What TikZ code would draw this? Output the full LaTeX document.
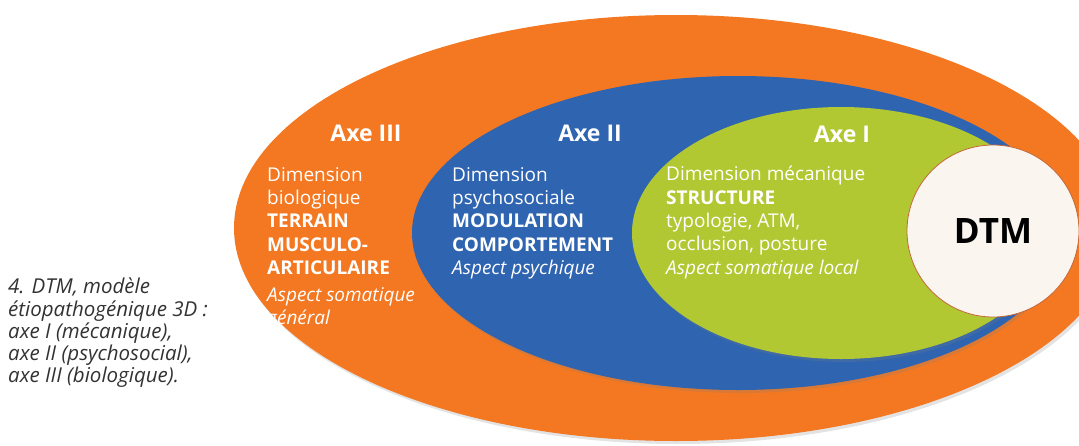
\documentclass[tikz,border=0pt]{standalone}
\usepackage{fontspec}
\setmainfont{Open Sans}
\usetikzlibrary{positioning,shadows}
\definecolor{orangeIII}{RGB}{243,120,33}
\definecolor{bleuII}{RGB}{46,100,176}
\definecolor{vertI}{RGB}{178,200,50}
\definecolor{creme}{RGB}{251,245,239}
\definecolor{bordDTM}{RGB}{196,104,58}
\definecolor{legende}{RGB}{50,50,50}

\begin{document}
\begin{tikzpicture}[x=1pt,y=-1pt,
    zone/.style={drop shadow={opacity=0.22,shadow xshift=2pt,shadow yshift=-3pt}},
    axe/.style={text=white,font=\fontsize{23}{26}\selectfont\bfseries},
    bloc/.style={text=white,align=left,anchor=north west,inner sep=0pt,
                 font=\fontsize{19}{23.4}\selectfont}]
   \useasboundingbox (0,0) rectangle (1079,445);
   \begin{scope}
     \clip (0,0) rectangle (1079,445);
     \fill[orangeIII,zone] (676,228) ellipse [x radius=442,y radius=213];
     \fill[bleuII,zone] (738,233) ellipse [x radius=326,y radius=157];
     \fill[vertI,zone] (841,233) ellipse [x radius=209,y radius=126];
   \end{scope}
   \node[circle,fill=creme,draw=bordDTM,line width=0.8pt,minimum size=172pt,
         font=\fontsize{35}{35}\selectfont\bfseries] (dtm) at (993,231) {DTM};
   % axe III
   \node[axe] (axeIII) at (366,133) {Axe III};
   \node[bloc] (blocIII) at (267,167) {Dimension\\biologique\\
      \textbf{TERRAIN}\\\textbf{MUSCULO-}\\\textbf{ARTICULAIRE}\\[3pt]
      \textit{Aspect somatique}\\\textit{général}};
   % axe II
   \node[axe] (axeII) at (590,133) {Axe II};
   \node[bloc] (blocII) at (452,167) {Dimension\\psychosociale\\
      \textbf{MODULATION}\\\textbf{COMPORTEMENT}\\\textit{Aspect psychique}};
   % axe I
   \node[axe] (axeI) at (842,134) {Axe I};
   \node[bloc] (blocI) at (666,166) {Dimension mécanique\\\textbf{STRUCTURE}\\
      typologie, ATM,\\occlusion, posture\\\textit{Aspect somatique local}};
   % legende
   \node[bloc,text=legende,font=\fontsize{20.5}{22.2}\selectfont\itshape] (legende) at (8,278)
      {4. DTM, modèle\\étiopathogénique 3D :\\axe I (mécanique),\\
       axe II (psychosocial),\\axe III (biologique).};
\end{tikzpicture}
\end{document}
